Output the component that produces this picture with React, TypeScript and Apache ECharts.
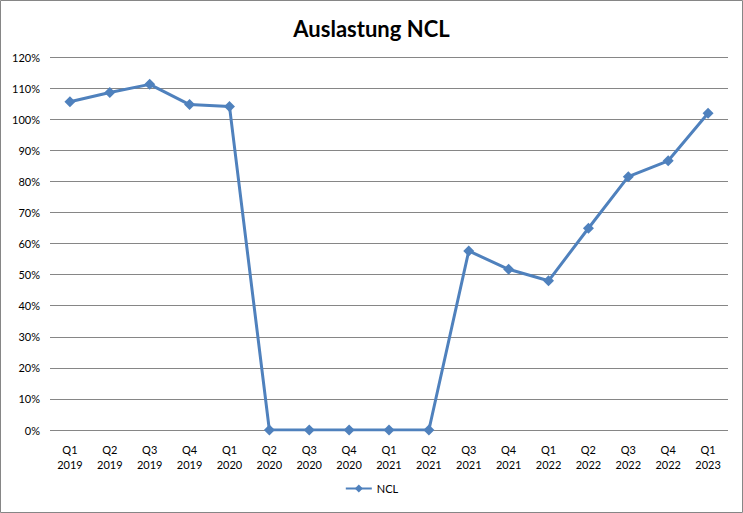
import React, { useEffect, useRef } from "react";
import * as echarts from "echarts";

const categories = [
  "Q1\n2019", "Q2\n2019", "Q3\n2019", "Q4\n2019",
  "Q1\n2020", "Q2\n2020", "Q3\n2020", "Q4\n2020",
  "Q1\n2021", "Q2\n2021", "Q3\n2021", "Q4\n2021",
  "Q1\n2022", "Q2\n2022", "Q3\n2022", "Q4\n2022",
  "Q1\n2023",
];
const nclValues = [105.6, 108.6, 111.2, 104.7, 104.1, 0, 0, 0, 0, 0, 57.6, 51.7, 48.0, 64.9, 81.5, 86.6, 101.9];
const yTicks = { min: 0, max: 120, interval: 10 };

const FONT = "Lato, 'Open Sans', 'Noto Sans', sans-serif";

export default function App() {
  const ref = useRef<HTMLDivElement>(null);
  useEffect(() => {
    if (!ref.current) return;
    const chart = echarts.init(ref.current, undefined, { renderer: "svg" });
    chart.setOption({
      animation: false,
      backgroundColor: "#ffffff",
      title: {
        text: "Auslastung NCL",
        left: "center",
        top: 12,
        textStyle: { fontFamily: FONT, fontSize: 22, fontWeight: "bold", color: "#000" },
      },
      graphic: [
        {
          type: "rect",
          shape: { x: 0.5, y: 0.5, width: 742, height: 512 },
          style: { fill: "none", stroke: "#868686", lineWidth: 1 },
          silent: true,
        },
      ],
      legend: {
        bottom: 14,
        left: "center",
        itemWidth: 26,
        itemHeight: 10,
        textStyle: { fontFamily: FONT, fontSize: 11, color: "#000" },
        data: ["NCL"],
      },
      grid: { left: 50, right: 15, top: 57, bottom: 83 },
      xAxis: {
        type: "category",
        data: categories,
        boundaryGap: true,
        axisLine: { show: false },
        axisTick: { show: false },
        axisLabel: {
          fontFamily: FONT,
          fontSize: 11,
          color: "#000",
          margin: 12,
          lineHeight: 15,
          interval: 0,
        },
      },
      yAxis: {
        type: "value",
        min: yTicks.min,
        max: yTicks.max,
        interval: yTicks.interval,
        axisLine: { show: false },
        axisTick: { show: false },
        axisLabel: {
          formatter: "{value}%",
          fontFamily: FONT,
          fontSize: 11,
          color: "#000",
          margin: 10,
        },
        splitLine: { lineStyle: { color: "#868686", width: 1 } },
      },
      series: [
        {
          name: "NCL",
          type: "line",
          data: nclValues,
          symbol: "diamond",
          symbolSize: 11,
          lineStyle: { color: "#4f81bd", width: 3 },
          itemStyle: { color: "#4f81bd" },
        },
      ],
    });
    return () => chart.dispose();
  }, []);
  return (
    <div
      ref={ref}
      style={{ position: "absolute", left: 0, top: 0, width: 743, height: 513 }}
    />
  );
}
